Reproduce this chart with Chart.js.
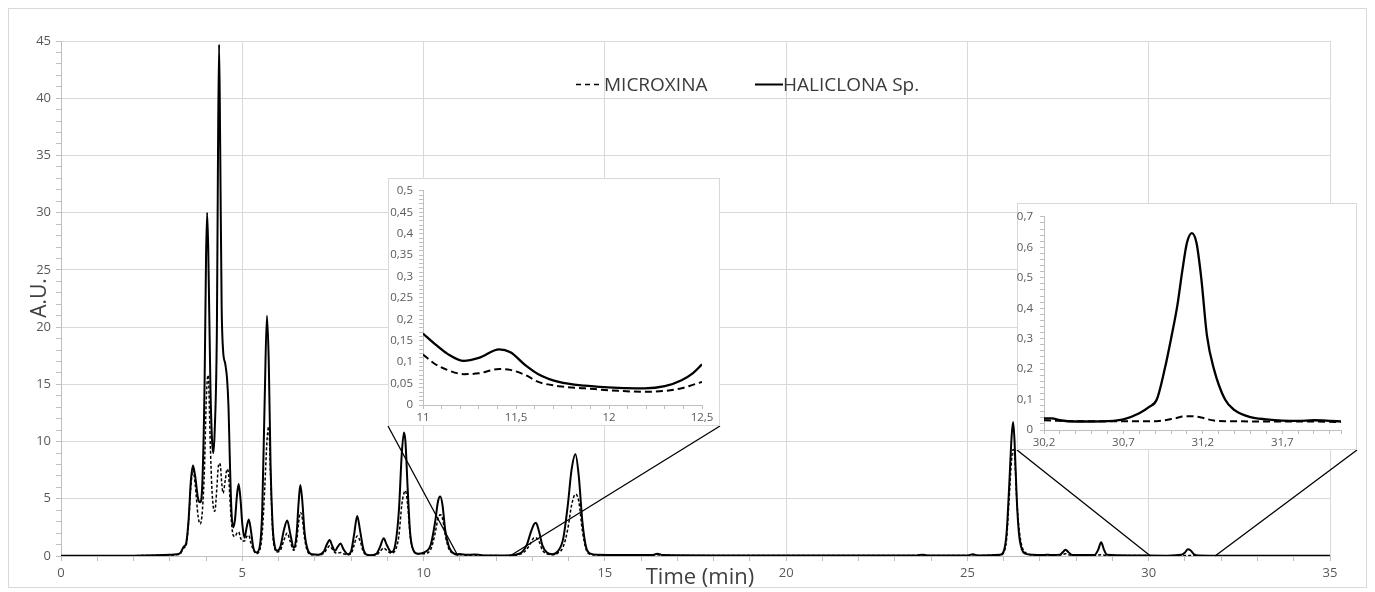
<!DOCTYPE html>
<html>
<head>
<meta charset="utf-8">
<script src="https://cdn.jsdelivr.net/npm/chart.js@4.4.0/dist/chart.umd.min.js"></script>
<style>
html,body{margin:0;padding:0;background:#fff;}
#wrap{position:relative;width:1375px;height:592px;overflow:hidden;}
#main{position:absolute;left:0;top:0;}
#in1{position:absolute;left:388px;top:178px;}
#in2{position:absolute;left:1017px;top:203px;}
</style>
</head>
<body>
<div id="wrap">
<canvas id="main" width="1375" height="592"></canvas>
<canvas id="in1" width="332" height="248"></canvas>
<canvas id="in2" width="340" height="247"></canvas>
</div>
<script>
// ---------------- DATA ----------------
const seriesLabels = ['MICROXINA', 'HALICLONA Sp.'];

const mainTimes = [
  0, 1, 2, 2.6, 3.0, 3.2, 3.3, 3.38, 3.45, 3.52,
  3.58, 3.64, 3.70, 3.78, 3.84, 3.90, 3.96, 4.00, 4.03, 4.06,
  4.12, 4.16, 4.20, 4.24, 4.30, 4.33, 4.36, 4.39, 4.43, 4.47,
  4.53, 4.58, 4.62, 4.66, 4.70, 4.75, 4.80, 4.85, 4.90, 4.95,
  5.00, 5.06, 5.12, 5.18, 5.24, 5.30, 5.39, 5.48, 5.55, 5.62,
  5.68, 5.73, 5.78, 5.84, 5.90, 5.96, 6.05, 6.15, 6.24, 6.32,
  6.42, 6.50, 6.55, 6.60, 6.65, 6.72, 6.80, 6.93, 7.10, 7.25,
  7.33, 7.41, 7.48, 7.56, 7.63, 7.71, 7.79, 7.91, 8.00, 8.08,
  8.17, 8.25, 8.35, 8.51, 8.70, 8.80, 8.90, 8.98, 9.11, 9.22,
  9.32, 9.40, 9.46, 9.50, 9.56, 9.63, 9.72, 9.84, 10.0, 10.20,
  10.32, 10.40, 10.46, 10.52, 10.60, 10.70, 10.80, 10.90, 11.0, 11.2,
  11.4, 11.6, 11.8, 12.0, 12.2, 12.4, 12.5, 12.7, 12.85, 12.95,
  13.05, 13.10, 13.18, 13.28, 13.40, 13.55, 13.70, 13.85, 13.98, 14.08,
  14.19, 14.28, 14.38, 14.48, 14.60, 14.80, 15.5, 16.3, 16.45, 16.6,
  18, 20, 22, 23.6, 23.75, 23.9, 25.0, 25.15, 25.3, 25.9,
  26.0, 26.08, 26.15, 26.22, 26.26, 26.30, 26.36, 26.42, 26.50, 26.60,
  26.80, 27.1, 27.18, 27.3, 27.55, 27.65, 27.71, 27.78, 27.9, 28.5,
  28.6, 28.69, 28.76, 28.85, 29.5, 30.5, 30.9, 31.0, 31.08, 31.15,
  31.25, 31.4, 32, 33, 34, 35
];
const haliclonaMain = [
  0.02, 0.02, 0.03, 0.06, 0.10, 0.15, 0.3, 0.8, 1.1, 3.2,
  6.5, 7.9, 7.0, 5.0, 4.7, 6.5, 15.0, 26.0, 30.0, 27.0,
  15.0, 10.5, 9.0, 11.0, 20.0, 35.0, 44.7, 36.0, 22.0, 18.0,
  16.8, 15.5, 13.0, 8.0, 4.0, 2.5, 3.2, 5.2, 6.3, 5.0,
  2.8, 1.6, 2.5, 3.2, 2.2, 0.8, 0.3, 0.8, 4.0, 14.0,
  21.0, 17.0, 8.0, 2.5, 0.8, 0.45, 0.8, 2.3, 3.1, 2.0,
  0.7, 2.0, 4.5, 6.2, 5.0, 2.0, 0.6, 0.15, 0.12, 0.4,
  1.0, 1.4, 0.9, 0.45, 0.8, 1.1, 0.6, 0.15, 0.4, 1.8,
  3.5, 2.2, 0.5, 0.06, 0.2, 0.8, 1.55, 1.0, 0.35, 1.0,
  4.0, 9.0, 10.8, 10.0, 6.0, 2.0, 0.5, 0.2, 0.3, 1.0,
  3.0, 4.8, 5.2, 4.5, 2.2, 0.8, 0.3, 0.15, 0.165, 0.103,
  0.128, 0.075, 0.05, 0.041, 0.04, 0.06, 0.1, 0.3, 1.0, 2.0,
  2.8, 2.9, 2.2, 0.9, 0.3, 0.15, 0.4, 1.5, 4.5, 7.5,
  8.9, 7.0, 3.0, 0.8, 0.2, 0.1, 0.08, 0.08, 0.2, 0.08,
  0.05, 0.05, 0.05, 0.05, 0.12, 0.05, 0.05, 0.15, 0.05, 0.1,
  0.4, 2.0, 6.0, 10.5, 11.7, 10.0, 5.0, 2.0, 0.6, 0.2,
  0.1, 0.08, 0.12, 0.08, 0.12, 0.4, 0.55, 0.35, 0.08, 0.08,
  0.5, 1.2, 0.6, 0.1, 0.05, 0.03, 0.1, 0.3, 0.6, 0.5,
  0.15, 0.05, 0.03, 0.03, 0.03, 0.03
];
const microxinaMain = [
  0.02, 0.02, 0.03, 0.05, 0.08, 0.12, 0.25, 0.7, 0.9, 3.0,
  6.0, 7.5, 6.3, 3.5, 2.8, 4.0, 8.0, 13.0, 15.2, 15.8,
  9.5, 6.0, 4.3, 3.9, 6.0, 7.5, 8.1, 8.0, 6.5, 5.5,
  6.6, 7.6, 7.2, 5.0, 3.0, 1.8, 1.7, 2.0, 2.1, 1.6,
  1.3, 1.3, 1.7, 1.8, 1.1, 0.6, 0.2, 0.5, 2.0, 6.0,
  10.0, 11.3, 7.0, 2.0, 0.6, 0.35, 0.5, 1.4, 2.0, 1.3,
  0.5, 1.3, 2.8, 3.8, 3.4, 1.5, 0.4, 0.1, 0.1, 0.25,
  0.6, 0.9, 0.6, 0.3, 0.25, 0.3, 0.2, 0.1, 0.2, 0.9,
  1.75, 1.3, 0.3, 0.05, 0.1, 0.4, 0.7, 0.5, 0.25, 0.5,
  1.8, 4.5, 5.5, 5.7, 4.5, 1.8, 0.5, 0.2, 0.2, 0.6,
  2.0, 3.3, 3.6, 3.3, 1.8, 0.6, 0.25, 0.12, 0.12, 0.075,
  0.083, 0.055, 0.04, 0.034, 0.032, 0.038, 0.055, 0.2, 0.6, 1.1,
  1.6, 1.6, 1.3, 0.5, 0.2, 0.1, 0.25, 0.8, 2.4, 4.4,
  5.4, 4.8, 2.2, 0.6, 0.15, 0.08, 0.06, 0.06, 0.1, 0.06,
  0.05, 0.05, 0.05, 0.05, 0.1, 0.05, 0.05, 0.1, 0.05, 0.08,
  0.3, 1.5, 5.0, 8.5, 9.3, 8.8, 5.0, 2.5, 0.9, 0.3,
  0.1, 0.06, 0.08, 0.06, 0.08, 0.15, 0.2, 0.12, 0.06, 0.06,
  0.08, 0.1, 0.08, 0.06, 0.04, 0.03, 0.03, 0.04, 0.045, 0.04,
  0.035, 0.03, 0.03, 0.03, 0.03, 0.03
];

// Inset 1 (11 - 12.5 min)
const inset1Times = [11.0, 11.06, 11.13, 11.22, 11.3, 11.41, 11.47, 11.55, 11.62, 11.73, 11.87, 12.05, 12.19, 12.3, 12.39, 12.45, 12.5];
const inset1Haliclona = [0.167, 0.144, 0.12, 0.103, 0.11, 0.13, 0.123, 0.093, 0.072, 0.054, 0.045, 0.04, 0.039, 0.044, 0.058, 0.074, 0.095];
const inset1Microxina = [0.118, 0.097, 0.082, 0.072, 0.074, 0.084, 0.082, 0.07, 0.054, 0.044, 0.039, 0.033, 0.031, 0.033, 0.039, 0.047, 0.054];

// Inset 2 (30.2 - 32.07 min)
const inset2Times = [30.2, 30.25, 30.3, 30.4, 30.5, 30.6, 30.7, 30.8, 30.86, 30.91, 30.96, 31.0, 31.04, 31.07, 31.1, 31.131, 31.16, 31.19, 31.226, 31.27, 31.34, 31.4, 31.5, 31.6, 31.7, 31.8, 31.9, 32.0, 32.07];
const inset2Haliclona = [0.038, 0.038, 0.032, 0.028, 0.028, 0.029, 0.035, 0.055, 0.075, 0.1, 0.2, 0.3, 0.41, 0.52, 0.615, 0.647, 0.615, 0.5, 0.31, 0.2, 0.1, 0.065, 0.042, 0.035, 0.031, 0.03, 0.032, 0.03, 0.028];
const inset2Microxina = [0.032, 0.031, 0.03, 0.029, 0.029, 0.029, 0.029, 0.029, 0.029, 0.029, 0.032, 0.036, 0.04, 0.044, 0.045, 0.045, 0.044, 0.041, 0.036, 0.031, 0.029, 0.029, 0.028, 0.028, 0.028, 0.028, 0.028, 0.027, 0.026];

// Tick values
const mainXMajor = [0, 5, 10, 15, 20, 25, 30, 35];
const mainYMajor = [0, 5, 10, 15, 20, 25, 30, 35, 40, 45];
const inset1XMajor = [11, 11.5, 12, 12.5];
const inset1YMajor = [0, 0.05, 0.1, 0.15, 0.2, 0.25, 0.3, 0.35, 0.4, 0.45, 0.5];
const inset2XMajor = [30.2, 30.7, 31.2, 31.7];
const inset2YMajor = [0, 0.1, 0.2, 0.3, 0.4, 0.5, 0.6, 0.7];

// Zoom connector targets on main time axis
const connectorTimes = [10.95, 12.38, 30.05, 31.83];

// ---------------- HELPERS ----------------
const FONT = '"Open Sans", "Noto Sans", sans-serif';
function steps(a, b, step) {
  const out = []; const n = Math.round((b - a) / step);
  for (let i = 0; i <= n; i++) out.push(+(a + i * step).toFixed(4));
  return out;
}
function isMajor(v, majors) { return majors.some(m => Math.abs(m - v) < 1e-6); }
function fmt(v) { return String(+v.toFixed(2)).replace('.', ','); }
function toXY(xs, ys) { return xs.map((x, i) => ({ x: x, y: ys[i] })); }

function axis(o) {
  return {
    type: 'linear', min: o.min, max: o.max,
    afterBuildTicks: s => { s.ticks = o.all.map(v => ({ value: v })); },
    afterFit: s => { if (o.width != null) s.width = o.width; if (o.height != null) s.height = o.height; },
    ticks: {
      autoSkip: false, maxRotation: 0, minRotation: 0, padding: o.pad,
      color: '#595959', font: { family: FONT, size: o.fs },
      callback: v => isMajor(v, o.major) ? fmt(v) : ''
    },
    grid: {
      display: true, drawOnChartArea: o.grid,
      color: c => (c.tick && isMajor(c.tick.value, o.major)) ? '#d9d9d9' : 'rgba(0,0,0,0)',
      tickColor: '#bfbfbf', tickLength: o.tl, lineWidth: 1
    },
    border: { display: true, color: '#bfbfbf', width: 1 }
  };
}

function lineDS(label, data, width, dash) {
  return {
    label: label, data: data, borderColor: '#000000', backgroundColor: '#000000',
    borderWidth: width, borderDash: dash, pointRadius: 0, fill: false,
    cubicInterpolationMode: 'monotone'
  };
}

// ---------------- MAIN CHART ----------------
const mainDecor = {
  id: 'mainDecor',
  beforeDraw(chart) {
    const c = chart.ctx;
    c.save();
    c.fillStyle = '#ffffff';
    c.fillRect(0, 0, chart.width, chart.height);
    c.strokeStyle = '#d9d9d9'; c.lineWidth = 1;
    c.strokeRect(8.5, 8.5, 1358, 579);
    c.restore();
  },
  afterDraw(chart) {
    const c = chart.ctx, xs = chart.scales.x, ys = chart.scales.y;
    const y0 = ys.getPixelForValue(0);
    c.save();
    // connectors
    c.strokeStyle = '#000'; c.lineWidth = 1.3; c.setLineDash([]);
    const corners = [[388, 426], [720, 426], [1017, 450], [1357, 450]];
    corners.forEach((p, i) => {
      c.beginPath(); c.moveTo(p[0], p[1]);
      c.lineTo(xs.getPixelForValue(connectorTimes[i]), y0); c.stroke();
    });
    // legend
    c.font = '19px ' + FONT; c.fillStyle = '#3a3a3a'; c.textBaseline = 'alphabetic'; c.textAlign = 'left';
    c.strokeStyle = '#000'; c.lineWidth = 1.5; c.setLineDash([5, 4]);
    c.beginPath(); c.moveTo(576, 84.5); c.lineTo(603, 84.5); c.stroke();
    c.fillText(chart.data.datasets[0].label, 604, 91);
    c.setLineDash([]); c.lineWidth = 2;
    c.beginPath(); c.moveTo(755, 84.5); c.lineTo(783, 84.5); c.stroke();
    c.fillText(chart.data.datasets[1].label, 783, 91);
    // axis titles
    c.fillStyle = '#404040';
    c.font = '22px ' + FONT; c.textAlign = 'center';
    c.fillText('Time (min)', 700, 584);
    c.translate(46, 298); c.rotate(-Math.PI / 2);
    c.font = '21px ' + FONT;
    c.fillText('A.U.', 0, 0);
    c.restore();
  }
};

new Chart(document.getElementById('main'), {
  type: 'line',
  data: { datasets: [
    lineDS(seriesLabels[0], toXY(mainTimes, microxinaMain), 1.5, [3, 2]),
    lineDS(seriesLabels[1], toXY(mainTimes, haliclonaMain), 2, [])
  ]},
  options: {
    responsive: false, animation: false, devicePixelRatio: 1,
    layout: { padding: { left: 0, top: 41, right: 45, bottom: 0 } },
    plugins: { legend: { display: false }, tooltip: { enabled: false } },
    scales: {
      x: axis({ min: 0, max: 35, all: steps(0, 35, 1), major: mainXMajor, fs: 13, pad: 4, tl: 5, grid: true, height: 36 }),
      y: axis({ min: 0, max: 45, all: steps(0, 45, 1), major: mainYMajor, fs: 13, pad: 5, tl: 5, grid: true, width: 61 })
    }
  },
  plugins: [mainDecor]
});

// ---------------- INSETS ----------------
const insetFrame = {
  id: 'insetFrame',
  beforeDraw(chart) {
    const c = chart.ctx;
    c.save();
    c.fillStyle = '#ffffff'; c.fillRect(0, 0, chart.width, chart.height);
    c.strokeStyle = '#d9d9d9'; c.lineWidth = 1;
    c.strokeRect(0.5, 0.5, chart.width - 1, chart.height - 1);
    c.restore();
  }
};

new Chart(document.getElementById('in1'), {
  type: 'line',
  data: { datasets: [
    lineDS(seriesLabels[0], toXY(inset1Times, inset1Microxina), 2, [7, 4]),
    lineDS(seriesLabels[1], toXY(inset1Times, inset1Haliclona), 2.3, [])
  ]},
  options: {
    responsive: false, animation: false, devicePixelRatio: 1,
    layout: { padding: { left: 0, top: 11, right: 18, bottom: 0 } },
    plugins: { legend: { display: false }, tooltip: { enabled: false } },
    scales: {
      x: axis({ min: 11, max: 12.5, all: steps(11, 12.5, 0.1), major: inset1XMajor, fs: 11.5, pad: 2, tl: 4, grid: false, height: 21 }),
      y: axis({ min: 0, max: 0.5, all: steps(0, 0.5, 0.01), major: inset1YMajor, fs: 11.5, pad: 6, tl: 4, grid: false, width: 35 })
    }
  },
  plugins: [insetFrame]
});

new Chart(document.getElementById('in2'), {
  type: 'line',
  data: { datasets: [
    lineDS(seriesLabels[0], toXY(inset2Times, inset2Microxina), 2, [7, 4]),
    lineDS(seriesLabels[1], toXY(inset2Times, inset2Haliclona), 2.3, [])
  ]},
  options: {
    responsive: false, animation: false, devicePixelRatio: 1,
    layout: { padding: { left: 0, top: 11, right: 16, bottom: 0 } },
    plugins: { legend: { display: false }, tooltip: { enabled: false } },
    scales: {
      x: axis({ min: 30.2, max: 32.07, all: steps(30.2, 32.0, 0.1).concat([32.07]), major: inset2XMajor, fs: 11.5, pad: 2, tl: 4, grid: false, height: 20 }),
      y: axis({ min: 0, max: 0.7, all: steps(0, 0.7, 0.02), major: inset2YMajor, fs: 11.5, pad: 7, tl: 4, grid: false, width: 27 })
    }
  },
  plugins: [insetFrame]
});
</script>
</body>
</html>
